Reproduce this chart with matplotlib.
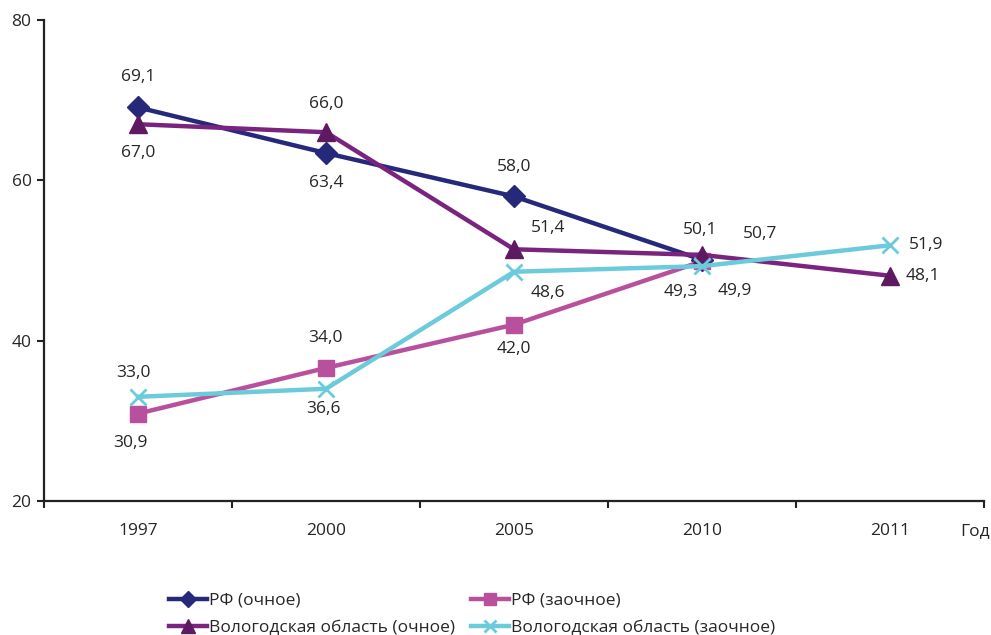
import numpy as np
import matplotlib.pyplot as plt

plt.rcParams['font.family'] = ['Open Sans', 'DejaVu Sans']

years = ['1997', '2000', '2005', '2010', '2011']
rf_och = [69.1, 63.4, 58.0, 50.1, None]
rf_zaoch = [30.9, 36.6, 42.0, 49.9, None]
vo_och = [67.0, 66.0, 51.4, 50.7, 48.1]
vo_zaoch = [33.0, 34.0, 48.6, 49.3, 51.9]

names = ['РФ (очное)', 'РФ (заочное)',
         'Вологодская область (очное)', 'Вологодская область (заочное)']

# label offsets in pixels (dx, dy) for each point
offs = {
    'rf_och': [(0, 30), (0, -30), (0, 29), (-2, 30), None],
    'rf_zaoch': [(-8, -29), (-3, -41), (0, -24), (33, -30), None],
    'vo_och': [(0, -29), (0, 28), (34, 21), (58, 21), (32, 0)],
    'vo_zaoch': [(-5, 24), (-1, 51), (34, -21), (-21, -26), (35, 0)],
}

fs = 12.5
text_col = '#262626'
fig = plt.figure(figsize=(9.91, 6.35), dpi=100)
ax = fig.add_axes([0.0444, 0.211, 0.9485, 0.7575])

x = np.arange(len(years))
series = [
    ('rf_och', rf_och, '#26287A', 'D', 11, '#26287A'),
    ('rf_zaoch', rf_zaoch, '#B8509E', 's', 11, '#B8509E'),
    ('vo_och', vo_och, '#7A2480', '^', 13, '#5E1A60'),
    ('vo_zaoch', vo_zaoch, '#6CCBDA', 'x', 12, '#6CCBDA'),
]

for i, (key, vals, col, mk, ms, mcol) in enumerate(series):
    v = np.array([np.nan if a is None else a for a in vals], dtype=float)
    ax.plot(x, v, color=col, lw=3.2, marker=mk, ms=ms, mfc=mcol, mec=mcol,
            mew=2 if mk == 'x' else 1, label=names[i], zorder=3 + i * 0.1)
    for j, val in enumerate(vals):
        if val is None:
            continue
        dx, dy = offs[key][j]
        ha = 'left' if (key in ('vo_och', 'vo_zaoch') and j == 4) else 'center'
        if ha == 'left':
            dx -= 16
        ax.annotate(f'{val:.1f}'.replace('.', ','), (x[j], val),
                    xytext=(dx, dy), textcoords='offset pixels',
                    ha=ha, va='center', fontsize=fs, color=text_col)

ax.set_xlim(-0.5, 4.5)
ax.set_ylim(20, 80)
ax.set_yticks([20, 40, 60, 80])
ax.set_xticks(x)
ax.set_xticklabels(years)
ax.set_xticks(np.arange(-0.5, 5, 1), minor=True)
ax.tick_params(axis='x', which='major', length=0, pad=16, labelsize=fs, labelcolor=text_col)
ax.tick_params(axis='x', which='minor', length=5, width=1.5, direction='out', color='#222222')
ax.tick_params(axis='y', length=5, width=1.5, pad=4, labelsize=fs, labelcolor=text_col, color='#222222')

for s in ['top', 'right']:
    ax.spines[s].set_visible(False)
for s in ['left', 'bottom']:
    ax.spines[s].set_linewidth(1.6)
    ax.spines[s].set_color('#222222')

# axis caption at the right end
fig.text(0.999, 1 - 531 / 635, 'Год', ha='right', va='center',
         fontsize=fs, color=text_col)

handles, labels = ax.get_legend_handles_labels()
order = [0, 2, 1, 3]
fig.legend([handles[k] for k in order], [labels[k] for k in order],
           ncol=2, loc='lower left', bbox_to_anchor=(0.155, -0.026),
           frameon=False, fontsize=fs, numpoints=1, handlelength=2.2,
           handletextpad=0.1, columnspacing=0.9, labelspacing=0.62,
           markerscale=0.75, labelcolor=text_col)

fig.savefig('out.png', dpi=100)
